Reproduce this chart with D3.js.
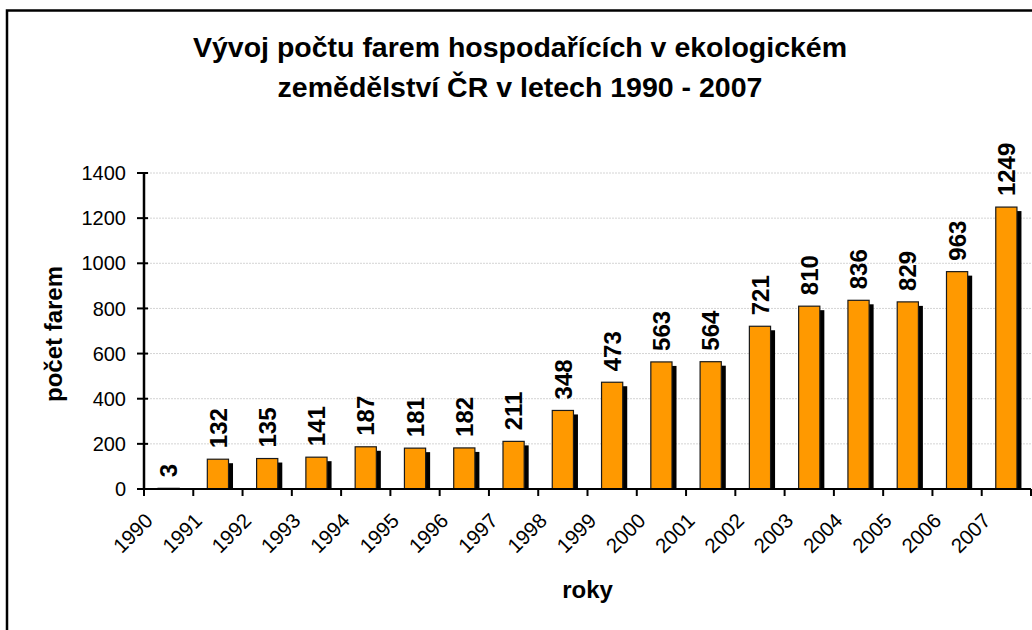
<!DOCTYPE html>
<html>
<head>
<meta charset="utf-8">
<script src="https://cdn.jsdelivr.net/npm/d3@7"></script>
<style>
  body { margin: 0; background: #fff; }
  svg text { font-family: "Liberation Sans", Arial, sans-serif; fill: #000; }
</style>
</head>
<body>
<svg class="chart"></svg>
<script>
var years  = ['1990','1991','1992','1993','1994','1995','1996','1997','1998',
              '1999','2000','2001','2002','2003','2004','2005','2006','2007'];
var farms  = [3, 132, 135, 141, 187, 181, 182, 211, 348,
              473, 563, 564, 721, 810, 836, 829, 963, 1249];
var yTicks = [0, 200, 400, 600, 800, 1000, 1200, 1400];
var titleLines = ['Vývoj počtu farem hospodařících v ekologickém',
                  'zemědělství ČR v letech 1990 - 2007'];

var width  = 1032;
var height = 630;

var svg = d3.select('.chart')
    .attr('width', width)
    .attr('height', height);

// frame (runs off the right and bottom edge like the original crop)
svg.append('rect')
    .attr('x', 7).attr('y', 10.5)
    .attr('width', 1100).attr('height', 700)
    .attr('fill', '#fff')
    .attr('stroke', '#000')
    .attr('stroke-width', 2.5);

// plot box (note: "top" is taken by window.top)
var pLeft = 144, pRight = 1031, pTop = 173, pBottom = 489;

var x = d3.scaleBand()
    .domain(d3.range(years.length))
    .range([pLeft, pRight])
    .paddingInner(0).paddingOuter(0);

var y = d3.scaleLinear()
    .domain([0, 1400])
    .range([pBottom, pTop]);

// title
svg.append('g').selectAll('text')
    .data(titleLines)
    .enter().append('text')
    .attr('x', 520)
    .attr('y', function(d, i) { return 57 + i * 40; })
    .attr('text-anchor', 'middle')
    .attr('font-size', 28.5)
    .attr('font-weight', 'bold')
    .text(function(d) { return d; });

// grid
svg.append('g').selectAll('line')
    .data(yTicks.slice(1))
    .enter().append('line')
    .attr('x1', pLeft).attr('x2', pRight)
    .attr('y1', function(d) { return y(d); })
    .attr('y2', function(d) { return y(d); })
    .attr('stroke', '#d4d4d4')
    .attr('stroke-width', 1)
    .attr('stroke-dasharray', '2,1');

// bars: black shadow first, then orange front
var bw = x.bandwidth() * 0.43;
var bars = svg.append('g').selectAll('g')
    .data(farms)
    .enter().append('g');

bars.append('rect')
    .attr('x', function(d, i) { return x(i) + x.bandwidth() / 2 - bw / 2 + 4.5; })
    .attr('y', function(d) { return y(d) + 4; })
    .attr('width', bw)
    .attr('height', function(d) { return Math.max(0, pBottom - y(d) - 4); })
    .attr('fill', '#000');

bars.append('rect')
    .attr('x', function(d, i) { return x(i) + x.bandwidth() / 2 - bw / 2; })
    .attr('y', function(d) { return y(d); })
    .attr('width', bw)
    .attr('height', function(d) { return pBottom - y(d); })
    .attr('fill', '#ff9900')
    .attr('stroke', '#1a1a1a')
    .attr('stroke-width', 1.2);

// value labels
bars.append('text')
    .attr('transform', function(d, i) {
        return 'translate(' + (x(i) + x.bandwidth() / 2) + ',' + (y(d) - 11) + ') rotate(-90)';
    })
    .attr('dy', '0.36em')
    .attr('font-size', 24)
    .attr('font-weight', 'bold')
    .text(function(d) { return d; });

// y axis
var yAxis = svg.append('g');
yAxis.append('line')
    .attr('x1', pLeft).attr('x2', pLeft)
    .attr('y1', pTop).attr('y2', pBottom)
    .attr('stroke', '#000').attr('stroke-width', 2.5);
yAxis.selectAll('.tick')
    .data(yTicks)
    .enter().append('line')
    .attr('x1', pLeft - 7).attr('x2', pLeft + 4)
    .attr('y1', function(d) { return y(d); })
    .attr('y2', function(d) { return y(d); })
    .attr('stroke', '#000').attr('stroke-width', 2);
yAxis.selectAll('text')
    .data(yTicks)
    .enter().append('text')
    .attr('x', 126)
    .attr('y', function(d) { return y(d); })
    .attr('dy', '0.36em')
    .attr('text-anchor', 'end')
    .attr('font-size', 20)
    .text(function(d) { return d; });

// x axis
var xAxis = svg.append('g');
xAxis.append('line')
    .attr('x1', pLeft).attr('x2', pRight)
    .attr('y1', pBottom).attr('y2', pBottom)
    .attr('stroke', '#000').attr('stroke-width', 2);
xAxis.selectAll('.tick')
    .data(d3.range(years.length + 1))
    .enter().append('line')
    .attr('x1', function(i) { return pLeft + i * x.step(); })
    .attr('x2', function(i) { return pLeft + i * x.step(); })
    .attr('y1', pBottom).attr('y2', pBottom + 7)
    .attr('stroke', '#000').attr('stroke-width', 2);
xAxis.selectAll('text')
    .data(years)
    .enter().append('text')
    .attr('transform', function(d, i) {
        return 'translate(' + (x(i) + 10) + ',' + 522 + ') rotate(-45)';
    })
    .attr('text-anchor', 'end')
    .attr('font-size', 20.5)
    .text(function(d) { return d; });

// axis titles
svg.append('text')
    .attr('x', (pLeft + pRight) / 2)
    .attr('y', 598)
    .attr('text-anchor', 'middle')
    .attr('font-size', 24)
    .attr('font-weight', 'bold')
    .text('roky');

svg.append('text')
    .attr('transform', 'translate(62,' + ((pTop + pBottom) / 2 + 3) + ') rotate(-90)')
    .attr('text-anchor', 'middle')
    .attr('font-size', 24)
    .attr('font-weight', 'bold')
    .text('počet farem');
</script>
</body>
</html>
